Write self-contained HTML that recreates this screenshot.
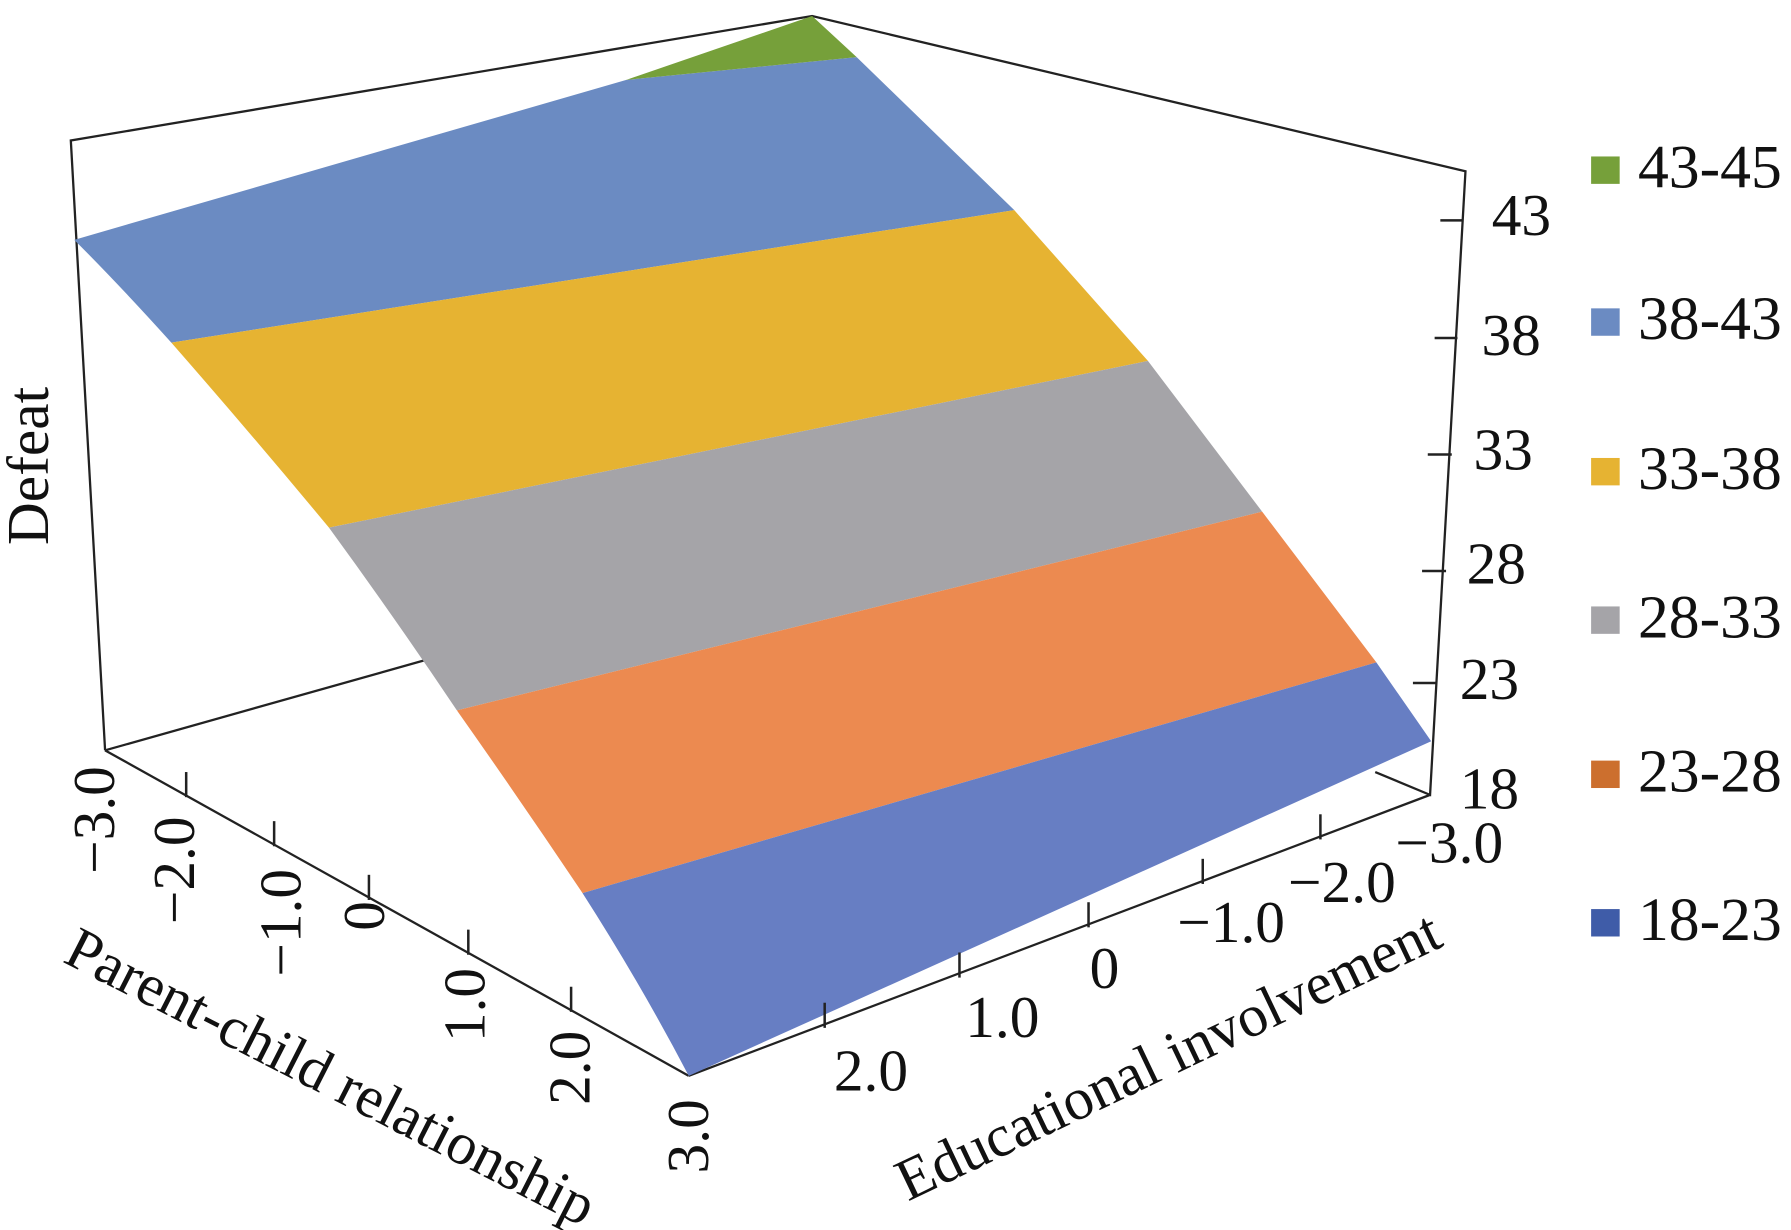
<!DOCTYPE html>
<html><head><meta charset="utf-8"><style>html,body{margin:0;padding:0;background:#fff}svg{display:block}</style></head>
<body>
<svg width="1791" height="1230" viewBox="0 0 1568 1077" preserveAspectRatio="none" xmlns="http://www.w3.org/2000/svg" font-family="Liberation Serif, serif" fill="#111">
<rect width="1568" height="1077" fill="#fff"/>
<g stroke="#222" stroke-width="2" fill="none">
<polyline points="92,657 62,123 711,14 1283,150 1252,696 1204,676"/>
<line x1="92" y1="657" x2="390" y2="573"/>
<line x1="92" y1="657" x2="603" y2="942"/>
<line x1="603" y1="942" x2="1252" y2="696"/>
</g>
<!-- surface -->
<path d="M65,210 L548,70 L750,50 L888,184 L150,300 Q105,250 65,210Z" fill="#6b8bc2"/>
<path d="M548,70 L711,14 L750,50Z" fill="#76a03a"/>
<path d="M150,300 L888,184 L1005,316 L288,462 Q220,380 150,300Z" fill="#e6b332"/>
<path d="M288,462 L1005,316 L1105,448 L400,622 Q345,540 288,462Z" fill="#a5a4a8"/>
<path d="M400,622 L1105,448 L1205,580 L510,782 Q455,700 400,622Z" fill="#ec8a50"/>
<path d="M510,782 L1205,580 L1253,649 L603,942 Q560,860 510,782Z" fill="#677ec3"/>
<g stroke="#222" stroke-width="2.2">
<line x1="1261" y1="193" x2="1281" y2="193"/>
<line x1="1256" y1="296" x2="1276" y2="296"/>
<line x1="1250" y1="398" x2="1271" y2="398"/>
<line x1="1245" y1="500" x2="1266" y2="500"/>
<line x1="1237" y1="598" x2="1257" y2="598"/>
<line x1="163" y1="676" x2="163" y2="698"/>
<line x1="240" y1="719" x2="240" y2="741"/>
<line x1="323" y1="766" x2="323" y2="788"/>
<line x1="410" y1="814" x2="410" y2="836"/>
<line x1="500" y1="864" x2="500" y2="886"/>
<line x1="722" y1="878" x2="722" y2="900"/>
<line x1="840" y1="834" x2="840" y2="856"/>
<line x1="953" y1="790" x2="953" y2="812"/>
<line x1="1053" y1="752" x2="1053" y2="774"/>
<line x1="1156" y1="713" x2="1156" y2="735"/>
</g>
<g font-size="52">
<text x="1306" y="206">43</text>
<text x="1297" y="311">38</text>
<text x="1290" y="411">33</text>
<text x="1284" y="511">28</text>
<text x="1278" y="612">23</text>
<text x="1278" y="708">18</text>
<g text-anchor="end">
<text x="1316" y="755">−3.0</text>
<text x="1222" y="790">−2.0</text>
<text x="1125" y="825">−1.0</text>
<text x="980" y="865">0</text>
<text x="910" y="908">1.0</text>
<text x="795" y="955">2.0</text>
</g>
<g text-anchor="middle">
<text transform="translate(100,718) rotate(-90)">−3.0</text>
<text transform="translate(170,762) rotate(-90)">−2.0</text>
<text transform="translate(263,808) rotate(-90)">−1.0</text>
<text transform="translate(336,802) rotate(-90)">0</text>
<text transform="translate(424,880) rotate(-90)">1.0</text>
<text transform="translate(516,935) rotate(-90)">2.0</text>
<text transform="translate(620,995) rotate(-90)">3.0</text>
<text transform="translate(42,408) rotate(-90)">Defeat</text>
<text transform="translate(282,958) rotate(27)">Parent-child relationship</text>
<text transform="translate(1030,940) rotate(-25.5)">Educational involvement</text>
</g>
</g>
<g font-size="54">
<rect x="1393" y="137" width="25" height="24" fill="#76a03a"/><text x="1434" y="164">43-45</text>
<rect x="1393" y="270" width="25" height="24" fill="#6b8bc2"/><text x="1434" y="297">38-43</text>
<rect x="1393" y="401" width="25" height="24" fill="#e6b332"/><text x="1434" y="428">33-38</text>
<rect x="1393" y="531" width="25" height="24" fill="#a5a4a8"/><text x="1434" y="558">28-33</text>
<rect x="1393" y="666" width="25" height="24" fill="#cc6f2e"/><text x="1434" y="693">23-28</text>
<rect x="1393" y="796" width="25" height="24" fill="#3f5ca8"/><text x="1434" y="823">18-23</text>
</g>
</svg>
</body></html>
